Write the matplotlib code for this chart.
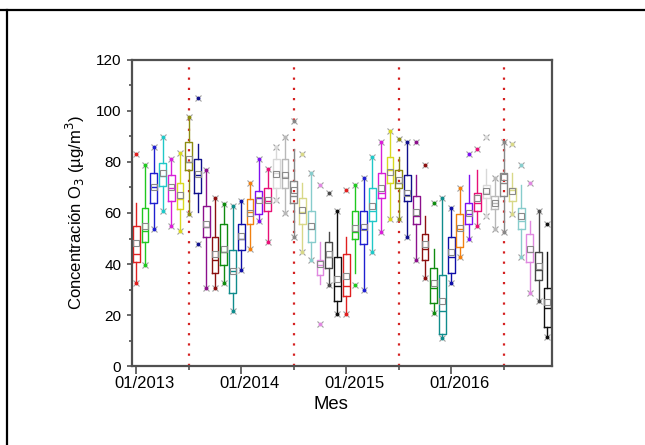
import matplotlib
matplotlib.use("Agg")
import matplotlib.pyplot as plt
from matplotlib.transforms import ScaledTranslation
import numpy as np

plt.rcParams['font.family'] = ['Liberation Sans', 'DejaVu Sans']

# Monthly ozone statistics, Jan 2013 - Dec 2016 (µg/m3)
p99 = [83.0, 78.8, 85.8, 89.9, 81.0, 83.7, 97.8, 105.0, 76.9, 66.0, 63.5, 62.7,
       64.8, 71.6, 81.0, 77.1, 85.8, 89.9, 96.1, 83.0, 75.8, 70.8, 67.7, 60.9,
       69.0, 70.8, 73.9, 81.8, 88.0, 92.0, 88.9, 88.0, 88.0, 78.8, 63.8, 65.8,
       61.8, 69.9, 83.0, 85.0, 89.9, 73.9, 88.0, 86.9, 78.8, 71.6, 60.8, 55.7]
whis_hi = [63.8, 78.8, 85.8, 89.9, 81.0, 83.7, 97.8, 86.9, 76.9, 66.0, 63.5, 62.7,
           64.8, 71.6, 81.0, 77.1, 85.8, 89.9, 85.0, 71.9, 75.8, 48.8, 52.7, 60.9,
           50.7, 70.8, 73.9, 81.8, 88.0, 92.0, 82.0, 88.0, 74.8, 58.8, 45.8, 65.8,
           61.8, 69.9, 74.8, 76.9, 77.1, 73.9, 88.0, 75.8, 70.8, 56.7, 60.8, 44.6]
q3 = [54.9, 61.8, 75.8, 79.7, 74.8, 71.8, 87.8, 81.0, 62.7, 50.5, 55.7, 45.5,
      55.7, 65.6, 68.8, 69.7, 81.0, 81.0, 72.7, 65.8, 60.8, 41.6, 48.6, 42.6,
      43.8, 60.8, 60.8, 69.9, 75.8, 81.8, 76.9, 74.8, 66.8, 51.8, 38.6, 35.7,
      50.7, 59.6, 63.8, 67.7, 70.8, 66.7, 75.8, 69.7, 61.8, 51.8, 44.6, 30.5]
median = [43.8, 53.1, 70.1, 74.5, 69.7, 65.4, 80.0, 74.8, 54.6, 41.6, 44.7, 37.4,
          49.7, 60.5, 65.8, 64.7, 75.6, 74.2, 66.7, 60.5, 53.6, 39.6, 42.9, 31.5,
          31.5, 52.7, 53.6, 60.8, 68.0, 76.9, 71.8, 67.1, 59.0, 45.8, 30.5, 21.6,
          42.6, 53.6, 59.6, 63.8, 67.7, 63.8, 71.9, 69.0, 56.7, 44.6, 37.6, 22.6]
mean = [48.4, 55.0, 70.3, 75.6, 70.3, 67.1, 81.3, 75.3, 55.7, 43.8, 45.9, 37.1,
        51.0, 59.9, 65.1, 65.1, 75.3, 74.9, 69.0, 61.2, 55.0, 40.0, 43.9, 34.0,
        35.3, 54.0, 54.6, 62.9, 69.9, 76.2, 72.9, 68.0, 60.3, 47.7, 32.4, 25.5,
        44.6, 54.0, 60.1, 65.8, 68.8, 64.1, 74.2, 68.8, 58.8, 45.9, 39.2, 25.0]
q1 = [40.7, 48.6, 63.8, 70.7, 64.7, 61.7, 76.9, 67.7, 50.7, 36.6, 39.7, 28.5,
      45.5, 55.7, 59.6, 60.8, 69.9, 69.9, 63.8, 55.7, 48.8, 35.7, 38.6, 25.5,
      27.5, 49.7, 47.8, 56.7, 65.8, 71.8, 69.7, 64.8, 55.7, 41.6, 24.6, 12.4,
      36.6, 46.5, 55.7, 60.8, 65.8, 61.7, 66.7, 64.7, 53.6, 40.7, 33.7, 15.4]
whis_lo = [32.7, 39.6, 53.7, 60.8, 55.0, 52.8, 60.0, 60.5, 30.6, 30.6, 32.7, 21.7,
           37.6, 45.8, 56.7, 48.8, 65.1, 59.9, 50.7, 44.8, 41.6, 32.2, 31.8, 20.4,
           20.4, 36.6, 29.8, 44.7, 52.7, 57.8, 57.8, 50.7, 41.6, 34.6, 20.7, 10.8,
           32.7, 42.6, 49.7, 54.9, 58.8, 53.6, 52.7, 59.6, 42.6, 28.8, 25.6, 11.5]
p1 = [32.7, 39.6, 53.7, 60.8, 55.0, 52.8, 59.6, 47.8, 30.6, 30.6, 32.7, 21.7,
      37.6, 45.8, 56.7, 48.8, 65.1, 59.9, 50.7, 44.8, 41.6, 16.3, 31.8, 20.4,
      20.4, 31.6, 29.8, 44.7, 52.7, 57.8, 57.8, 50.7, 41.6, 34.6, 20.7, 10.8,
      32.7, 42.6, 49.7, 54.9, 58.8, 53.6, 52.7, 59.6, 42.6, 28.8, 25.6, 11.5]

tick_labels = ["01/2013", "01/2014", "01/2015", "01/2016"]

# 24-colour cycle, one colour per month over two years
palette = ['#e02020', '#20c820', '#2020d0', '#20c8c8', '#d820d8', '#d8d820',
           '#8c8c10', '#10108c', '#8c108c', '#8c1010', '#108c10', '#108c8c',
           '#1010a8', '#f08010', '#8010f0', '#e81078', '#d8d8d8', '#b8b8b8',
           '#888888', '#d8d888', '#88cccc', '#e088e0', '#484848', '#101010']

n = len(median)

fig = plt.figure(figsize=(6.45, 4.45), dpi=100)
ax = fig.add_axes([0.2042, 0.1775, 0.6512, 0.6877])

for i in range(n):
    c = palette[i % 24]
    st = dict(med=median[i], q1=q1[i], q3=q3[i], whislo=whis_lo[i],
              whishi=whis_hi[i], mean=mean[i], fliers=[])
    ax.bxp([st], positions=[i], widths=0.78, showcaps=False, showmeans=True,
           showfliers=False, patch_artist=False,
           boxprops=dict(color=c, linewidth=1.0),
           medianprops=dict(color=c, linewidth=1.0),
           whiskerprops=dict(color=c, linewidth=1.0),
           meanprops=dict(marker='s', markerfacecolor='none',
                          markeredgecolor='#8a8a8a', markersize=4,
                          markeredgewidth=0.8))
    for v in (p99[i], p1[i]):
        ax.plot(i, v, marker='x', color='#a0a0a0', markersize=4.5,
                markeredgewidth=0.8, zorder=4)
        ax.plot(i, v, marker='o', color=c, markersize=1.8, zorder=5)

# mid-year separators
for xv in (6, 18, 30, 42):
    ax.axvline(xv, color='#d42020', linestyle=(0, (1, 3.6)), linewidth=1.6,
               zorder=0.5)

ax.set_xlim(-0.53, 47.5)
ax.set_ylim(0, 120)
ax.set_xticks([0, 12, 24, 36])
ax.set_xticklabels(tick_labels)
ax.set_xticks([6, 18, 30, 42], minor=True)
ax.set_yticks(np.arange(0, 121, 20))
ax.set_yticks(np.arange(10, 120, 20), minor=True)

ax.tick_params(axis='y', which='major', direction='out', length=3.5,
               width=1.2, color='#505050', labelsize=11, pad=4)
ax.tick_params(axis='y', which='minor', direction='out', length=2.2,
               width=1.2, color='#505050')
ax.tick_params(axis='x', which='major', direction='out', length=5.5,
               width=1.2, color='#505050', labelsize=12, pad=2)
ax.tick_params(axis='x', which='minor', direction='out', length=3,
               width=1.2, color='#505050')
for sp in ax.spines.values():
    sp.set_color('#505050')
    sp.set_linewidth(1.6)

# tick labels sit slightly right of their ticks
shift = ScaledTranslation(8 / 100, 0, fig.dpi_scale_trans)
for lab in ax.get_xticklabels():
    lab.set_transform(lab.get_transform() + shift)

ax.set_xlabel("Mes", fontsize=13.3)
ax.xaxis.set_label_coords(0.4745, -0.098)
ax.set_ylabel("Concentración O$_3$ (µg/m$^3$)", fontsize=12, labelpad=6)

# outer frame lines
fig.add_artist(plt.Line2D([0, 1], [1 - 10 / 445, 1 - 10 / 445],
                          transform=fig.transFigure, color='black', linewidth=1.6))
fig.add_artist(plt.Line2D([7 / 645, 7 / 645], [0, 1 - 10 / 445],
                          transform=fig.transFigure, color='black', linewidth=1.6))

fig.savefig("out.png", dpi=100)
